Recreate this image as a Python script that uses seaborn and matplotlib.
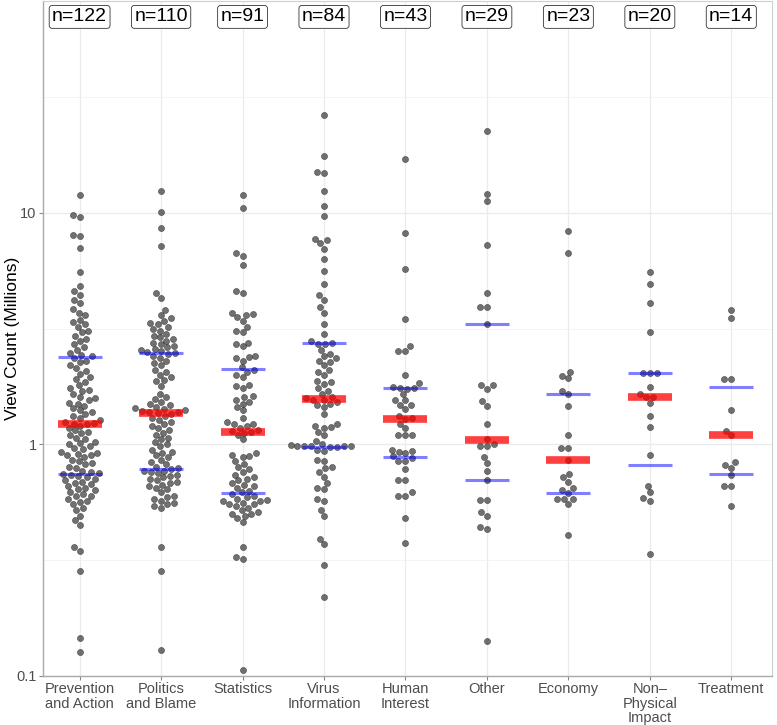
import numpy as np
import pandas as pd
import matplotlib
matplotlib.use("Agg")
import matplotlib.pyplot as plt
import seaborn as sns

categories = ["Prevention\nand Action", "Politics\nand Blame", "Statistics", "Virus\nInformation",
              "Human\nInterest", "Other", "Economy", "Non–\nPhysical\nImpact", "Treatment"]

prevention = [11.9, 9.8, 9.6, 8.0, 7.9, 7.06, 5.57, 4.83, 4.6, 4.4, 4.2, 4.06, 3.83, 3.7, 3.6, 3.45, 3.37,
              3.3, 3.22, 3.1, 3.04, 2.95, 2.86, 2.8, 2.70, 2.62, 2.55, 2.48, 2.42, 2.40,
              2.35, 2.3, 2.27, 2.2, 2.14, 2.08, 2.02, 1.95, 1.91, 1.85, 1.80, 1.75, 1.72, 1.70, 1.65, 1.60,
              1.58, 1.55, 1.51, 1.50, 1.47, 1.43, 1.40, 1.38, 1.35, 1.33, 1.30, 1.27, 1.25, 1.24, 1.23,
              1.22, 1.20, 1.18, 1.15, 1.13, 1.12, 1.10, 1.07, 1.05, 1.02, 1.01, 1.0, 0.98, 0.96, 0.951, 0.93,
              0.92, 0.91, 0.90, 0.897, 0.88, 0.86, 0.847, 0.83, 0.82, 0.80, 0.79, 0.77, 0.76, 0.75,
              0.745, 0.74, 0.73, 0.72, 0.711, 0.70, 0.69, 0.68, 0.671, 0.66, 0.65, 0.64, 0.633, 0.62, 0.61,
              0.60, 0.598, 0.58, 0.57, 0.564, 0.55, 0.532, 0.52, 0.492, 0.47, 0.447, 0.361, 0.348, 0.283,
              0.146, 0.127]
politics = [12.4, 10.1, 8.6, 7.2, 4.5, 4.3, 3.8, 3.6, 3.5, 3.4, 3.35, 3.3, 3.2, 3.15, 3.1, 3.0, 2.95, 2.9,
            2.85, 2.8, 2.75, 2.7, 2.65, 2.62, 2.58, 2.55, 2.52, 2.50,
            2.48, 2.45, 2.4, 2.35, 2.3, 2.25, 2.2, 2.1, 2.05, 2.0, 1.95, 1.9, 1.87, 1.79, 1.65, 1.6, 1.57,
            1.53, 1.5, 1.48, 1.45, 1.43, 1.42, 1.40, 1.39, 1.38, 1.375,
            1.365, 1.35, 1.32, 1.3, 1.27, 1.25, 1.22, 1.2, 1.18, 1.15, 1.12, 1.1, 1.07, 1.05, 1.02, 1.0,
            0.98, 0.95, 0.93, 0.92, 0.9, 0.88, 0.86, 0.84, 0.82, 0.80, 0.79,
            0.78, 0.77, 0.77, 0.76, 0.75, 0.74, 0.73, 0.72, 0.71, 0.70, 0.69, 0.68, 0.67, 0.66, 0.65, 0.64,
            0.62, 0.60, 0.59, 0.58, 0.57, 0.56, 0.55, 0.54, 0.53, 0.36, 0.285, 0.13]
statistics = [11.9, 10.5, 6.67, 6.5, 5.97, 4.6, 4.5, 3.7, 3.65, 3.6, 3.55, 3.4, 3.2, 3.1, 3.04, 2.75, 2.7,
              2.65, 2.4, 2.38, 2.35, 2.3, 2.15,
              2.09, 2.05, 2.0, 1.95, 1.8, 1.78, 1.75, 1.62, 1.6, 1.55, 1.53, 1.5, 1.45, 1.4, 1.3, 1.25, 1.23,
              1.22, 1.2, 1.18, 1.15, 1.14, 1.13,
              1.12, 1.1, 1.05, 0.92, 0.9, 0.89, 0.88, 0.85, 0.82, 0.8, 0.78, 0.76, 0.74, 0.72, 0.71, 0.70,
              0.68, 0.67, 0.66, 0.65, 0.63, 0.62,
              0.608, 0.6, 0.59, 0.58, 0.575, 0.57, 0.56, 0.55, 0.54, 0.53, 0.52, 0.51, 0.5, 0.5, 0.49, 0.48,
              0.46, 0.36, 0.325, 0.32, 0.106, 0.55, 0.57]
virus = [26.4, 17.5, 15.0, 14.8, 12.4, 10.7, 9.7, 7.7, 7.6, 7.4, 7.0, 6.3, 5.6, 4.9, 4.4, 4.2, 3.9, 3.7,
         3.3, 3.0, 2.8,
         2.73, 2.72, 2.7, 2.55, 2.45, 2.4, 2.35, 2.3, 2.27, 2.2, 2.1, 2.05, 2.0, 1.87, 1.85, 1.83, 1.75,
         1.7, 1.65, 1.6, 1.58,
         1.56, 1.55, 1.53, 1.5, 1.48, 1.45, 1.35, 1.22, 1.2, 1.19, 1.18, 1.13, 1.1, 1.03, 1.0, 0.99,
         0.985, 0.98, 0.98, 0.98, 0.98,
         0.975, 0.97, 0.95, 0.94, 0.86, 0.85, 0.8, 0.79, 0.76, 0.725, 0.68, 0.65, 0.64, 0.58, 0.57, 0.52,
         0.49, 0.39, 0.37, 0.30, 0.22]
human = [0.375, 0.48, 0.6, 0.6, 0.62, 0.70, 0.70, 0.78, 0.85, 0.85, 0.87, 0.89, 0.92, 0.93, 0.94, 0.95,
         1.1, 1.1, 1.1, 1.18, 1.23, 1.29, 1.30, 1.33, 1.42, 1.48, 1.48, 1.55, 1.55, 1.65, 1.74, 1.75,
         1.75, 1.76, 1.84, 2.0, 2.53, 2.53, 2.65, 3.47, 5.7, 8.2, 17.0]
other = [0.142, 0.43, 0.44, 0.49, 0.51, 0.575, 0.575, 0.70, 0.77, 0.83, 0.88, 0.98, 0.98, 1.0, 1.05,
         1.22, 1.47, 1.54, 1.73, 1.80, 1.80, 3.3, 3.93, 3.93, 4.52, 7.25, 11.2, 12.1, 22.5]
economy = [0.406, 0.55, 0.58, 0.58, 0.58, 0.617, 0.633, 0.65, 0.69, 0.72, 0.745, 0.853, 0.96, 0.96,
           1.10, 1.47, 1.65, 1.70, 1.93, 1.98, 2.06, 6.71, 8.36]
nonphysical = [0.335, 0.57, 0.586, 0.62, 0.66, 0.897, 1.19, 1.32, 1.51, 1.60, 1.60, 1.65, 1.77, 2.04,
               2.04, 2.04, 3.04, 4.06, 4.93, 5.53]
treatment = [0.543, 0.66, 0.66, 0.734, 0.79, 0.815, 0.837, 1.10, 1.145, 1.40, 1.92, 1.92, 3.5, 3.79]

medians = [1.23, 1.37, 1.13, 1.57, 1.29, 1.047, 0.853, 1.60, 1.10]
q1s = [0.745, 0.78, 0.614, 0.977, 0.88, 0.703, 0.617, 0.818, 0.748]
q3s = [2.38, 2.49, 2.12, 2.75, 1.746, 3.3, 1.65, 2.04, 1.77]

groups = [prevention, politics, statistics, virus, human, other, economy, nonphysical, treatment]

df = pd.DataFrame({
    "topic": np.concatenate([[c] * len(g) for c, g in zip(categories, groups)]),
    "views": np.concatenate(groups),
})

sns.set_theme(style="whitegrid")
plt.rcParams["font.family"] = ["Liberation Sans", "DejaVu Sans"]

fig, ax = plt.subplots(figsize=(7.77, 7.25), dpi=100)
fig.subplots_adjust(left=0.0553, right=0.9936, top=0.9986, bottom=0.0676)

sns.swarmplot(data=df, x="topic", y="views", order=categories, log_scale=True,
              color="#3a3a3a", alpha=0.72, size=4.4, edgecolor="#222222", linewidth=0.4,
              ax=ax, zorder=3)

xs = np.arange(len(categories))
hw = 0.27
ax.hlines(q1s, xs - hw, xs + hw, colors="#0000ff", alpha=0.5, lw=2.2, zorder=4)
ax.hlines(q3s, xs - hw, xs + hw, colors="#0000ff", alpha=0.5, lw=2.2, zorder=4)
ax.hlines(medians, xs - hw, xs + hw, colors="#ff0000", alpha=0.75, lw=5.5, zorder=5)

ax.set_ylim(0.1, 82)
ax.set_xlim(-0.45, len(categories) - 0.5)

for i, g in enumerate(groups):
    ax.text(i, 70, f"n={len(g)}", ha="center", va="center", fontsize=14, color="black",
            bbox=dict(boxstyle="round,pad=0.15,rounding_size=0.15", fc="white", ec="#333333", lw=0.6),
            zorder=6)

ax.set_yticks([0.1, 1, 10])
ax.set_yticklabels(["0.1", "1", "10"])
ax.set_yticks([10 ** -0.5, 10 ** 0.5, 10 ** 1.5], minor=True)
ax.yaxis.set_minor_formatter(matplotlib.ticker.NullFormatter())
ax.grid(True, which="major", color="#ebebeb", lw=0.9)
ax.grid(True, which="minor", axis="y", color="#f2f2f2", lw=0.6)
ax.set_axisbelow(True)

ax.tick_params(axis="both", which="major", labelsize=10.5, labelcolor="#4d4d4d", color="#888888",
               length=3, width=0.8, left=True, bottom=True, pad=1.5)
ax.tick_params(axis="y", which="minor", length=0)
for lab in ax.get_xticklabels():
    lab.set_linespacing(1.05)
ax.set_xlabel("")
ax.set_ylabel("View Count (Millions)", fontsize=12.5, color="black")
ax.yaxis.set_label_coords(-0.032, 0.5)

for side in ["top", "right"]:
    ax.spines[side].set_color("#cfcfcf")
    ax.spines[side].set_linewidth(0.8)
for side in ["left", "bottom"]:
    ax.spines[side].set_color("#aaaaaa")
    ax.spines[side].set_linewidth(1.0)

fig.savefig("out.png", dpi=100, facecolor="white")
